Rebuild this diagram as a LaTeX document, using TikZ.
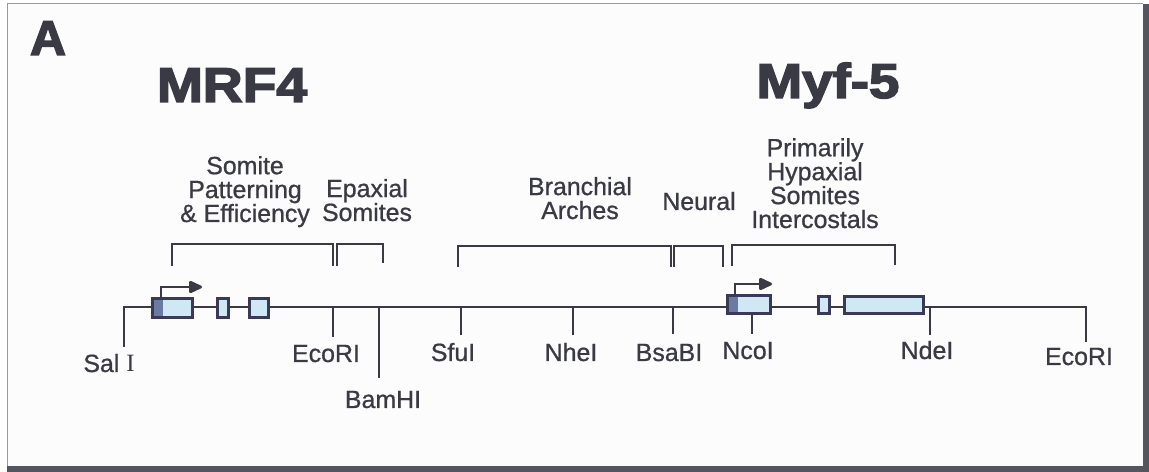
\documentclass[tikz,border=0pt]{standalone}
\usepackage{fontspec}
\setmainfont{Liberation Sans}
\newfontfamily\serifI{Liberation Serif}
\newfontfamily\heavyfont[FakeBold=3]{Liberation Sans Bold}
\newfontfamily\labelfont[FakeBold=0.8]{Liberation Sans}
\usetikzlibrary{arrows.meta}
\definecolor{ink}{HTML}{3A3A44}
\definecolor{exonline}{HTML}{3A3A58}
\definecolor{exonfill}{HTML}{D0E8F4}
\definecolor{promfill}{HTML}{6A7AA0}
\definecolor{shadow}{HTML}{55555F}
\definecolor{frameline}{HTML}{9A9A9A}
\definecolor{paper}{HTML}{FCFCFC}
\begin{document}
\begin{tikzpicture}[x=1bp,y=-1bp,
  lbl/.style={font=\labelfont\fontsize{25}{24}\selectfont, text=ink, inner sep=0pt, anchor=base, align=center},
  title/.style={font=\heavyfont\fontsize{49}{49}\selectfont, text=ink, inner sep=0pt, anchor=base},
  wire/.style={draw=ink, line width=2.7bp},
  bracket/.style={draw=ink, line width=2.4bp},
  exon/.style={draw=exonline, fill=exonfill, line width=3bp},
  prom/.style={fill=promfill},
  tss/.style={draw=ink, line width=2.8bp, -{Triangle[length=15bp,width=13bp,round]}}]
\useasboundingbox (0,0) rectangle (1149,472);
\fill[white] (0,0) rectangle (1149,472);
\fill[paper] (7,4) rectangle (1143,466);
\draw[frameline, line width=1bp] (7,466) -- (7,4) -- (1143,4);
\fill[shadow] (1143,4) rectangle (1149,472);
\fill[shadow] (7,466) rectangle (1149,472);

% titles
\node[title] (A) at (48,55) {\scalebox{1.02}[1]{A}};
\node[title] (mrf4) at (232,102) {\scalebox{1.13}[1]{MRF4}};
\node[title] (myf5) at (828,98) {\scalebox{1.12}[1]{Myf-5}};

% region labels (base = baseline of last line)
\node[lbl] (somite) at (245,222) {Somite\\Patterning\\\& Efficiency};
\node[lbl] (epax) at (367,221) {Epaxial\\Somites};
\node[lbl] (branch) at (580,219) {Branchial\\Arches};
\node[lbl] (neural) at (699,210) {Neural};
\node[lbl] (hypax) at (815,228) {Primarily\\Hypaxial\\Somites\\Intercostals};

% brackets
\draw[bracket] (172,266) |- (333,244) -- (333,266);
\draw[bracket] (337,266) |- (383,244) -- (383,263);
\draw[bracket] (458,267) |- (671,246) -- (671,267);
\draw[bracket] (674,267) |- (723,246) -- (723,267);
\draw[bracket] (732,266) |- (895,245) -- (895,265);

% gene line
\coordinate (salI) at (124,347);
\coordinate (ecoR) at (1086,342);
\draw[wire] (salI) -- (124,307) -- (1086,307) -- (ecoR);

% restriction ticks
\draw[wire] (333,307) -- (333,337);
\draw[wire] (379,307) -- (379,378);
\draw[wire] (461,307) -- (461,335);
\draw[wire] (573,307) -- (573,335);
\draw[wire] (673,307) -- (673,334);
\draw[wire] (752,313) -- (752,334);
\draw[wire] (930,307) -- (930,335);

% MRF4 exons
\fill[exonfill] (152,299) rectangle (192,318);
\fill[prom] (152,299) rectangle (163,318);
\draw[exon, fill=none] (152,299) rectangle (192,318);
\draw[exon] (217,299) rectangle (228,318);
\draw[exon] (249,299) rectangle (268,318);
\draw[tss] (161,299) |- (202,287);

% Myf-5 exons
\fill[exonfill] (727,296) rectangle (770,314);
\fill[prom] (727,296) rectangle (738,314);
\draw[exon, fill=none] (727,296) rectangle (770,314);
\draw[exon] (818,297) rectangle (829,314);
\draw[exon] (844,297) rectangle (923,314);
\draw[tss] (735,296) |- (772,284);

% site labels
\node[lbl] (lsal) at (109,372) {Sal {\serifI I}};
\node[lbl] (leco1) at (326,362) {EcoRI};
\node[lbl] (lbam) at (383,408) {BamHI};
\node[lbl] (lsfu) at (453,361) {SfuI};
\node[lbl] (lnhe) at (571,361) {NheI};
\node[lbl] (lbsa) at (669,361) {BsaBI};
\node[lbl] (lnco) at (748,359) {NcoI};
\node[lbl] (lnde) at (927,359) {NdeI};
\node[lbl] (leco2) at (1079,365) {EcoRI};
\end{tikzpicture}
\end{document}
